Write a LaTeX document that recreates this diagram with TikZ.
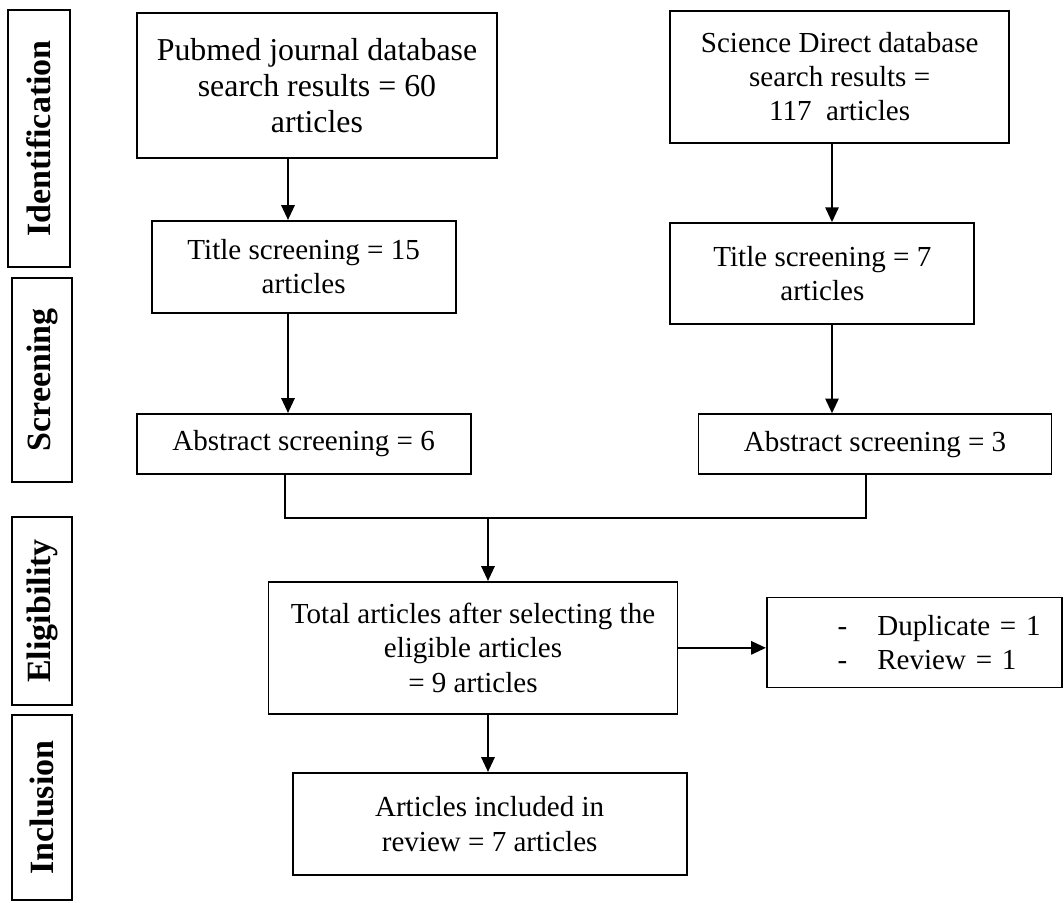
\documentclass[tikz,border=0pt]{standalone}
\usepackage{fontspec}
\setmainfont{Liberation Serif}
\usepackage{tikz}
\usetikzlibrary{positioning, arrows.meta}
\tikzstyle{stage} = [rectangle, rotate=90, draw=black, line width=0.8pt, inner sep=0pt, text centered, font=\fontsize{14.5}{17}\selectfont\bfseries]
\tikzstyle{process} = [rectangle, draw=black, line width=0.8pt, text centered, align=center, font=\fontsize{12.4}{14.6}\selectfont]
\tikzstyle{source} = [process, font=\fontsize{13.6}{15.3}\selectfont]
\tikzstyle{arrow} = [line width=0.7pt,->,>={Triangle[length=0.22cm,width=0.2cm]}]
\tikzstyle{link} = [line width=0.7pt]

\begin{document}
\begin{tikzpicture}[node distance=1.5cm]
        \useasboundingbox (-4.755,1.2825) rectangle (11.205,-12.2475);

        \node (pubmed) [source, minimum width=5.4cm, minimum height=2.175cm] {Pubmed journal database\\ search results = 60\\ articles};
        \node (titleL) [process, below of=pubmed, xshift=-0.2cm, yshift=-1.22cm, minimum width=4.56cm, minimum height=1.38cm] {Title screening = 15\\ articles};
        \node (absL) [process, below of=titleL, yshift=-1.155cm, minimum width=5.01cm, minimum height=0.9cm] {Abstract screening = 6};
        \node (sd) [process, right of=pubmed, xshift=6.34cm, yshift=0.13cm, minimum width=5.085cm, minimum height=1.98cm] {Science Direct database\\ search results =\\ 117\ \ articles};
        \node (titleR) [process, below of=sd, xshift=-0.26cm, yshift=-1.45cm, minimum width=4.56cm, minimum height=1.515cm] {Title screening = 7\\ articles};
        \node (absR) [process, below of=titleR, xshift=0.79cm, yshift=-1.06cm, minimum width=5.295cm, minimum height=0.9cm] {Abstract screening = 3};
        \node (total) [process, below of=absL, xshift=2.54cm, yshift=-1.56cm, minimum width=6.135cm, minimum height=1.98cm, font=\fontsize{12.4}{14.9}\selectfont] {Total articles after selecting the\\ eligible articles\\ = 9 articles};
        \node (excl) [process, right of=total, xshift=5.12cm, yshift=0.08cm, minimum width=4.425cm, minimum height=1.35cm, align=left, text width=4.2cm, inner xsep=0.1cm] {\hspace*{0.95cm}-\hspace{0.45cm}Duplicate = 1\\ \hspace*{0.95cm}-\hspace{0.45cm}Review = 1};
        \node (incl) [process, below of=total, xshift=0.25cm, yshift=-1.14cm, minimum width=5.91cm, minimum height=1.53cm, font=\fontsize{12.4}{14.9}\selectfont] {Articles included in\\ review = 7 articles};

        % stage labels on the left
        \node (identification) [stage, minimum width=3.855cm, minimum height=0.93cm] at (-4.17,-0.795) {Identification};
        \node (screening) [stage, minimum width=3.06cm, minimum height=0.9cm] at (-4.125,-4.4175) {Screening};
        \node (eligibility) [stage, minimum width=2.82cm, minimum height=0.9cm] at (-4.125,-7.8825) {Eligibility};
        \node (inclusion) [stage, minimum width=2.775cm, minimum height=0.9cm] at (-4.125,-10.83) {Inclusion};

        \coordinate (lcol) at (-0.435,0);
        \coordinate (rcol) at (7.725,0);
        \coordinate (jl) at (-0.48,-6.4875);
        \coordinate (jr) at (8.235,-6.4875);
        \coordinate (jm) at (2.565,-6.4875);

        \draw [arrow] (pubmed.south -| lcol) -- (titleL.north -| lcol);
        \draw [arrow] (titleL.south -| lcol) -- (absL.north -| lcol);
        \draw [arrow] (sd.south -| rcol) -- (titleR.north -| rcol);
        \draw [arrow] (titleR.south -| rcol) -- (absR.north -| rcol);
        \draw [link] (absL.south -| jl) -- (jl) -- (jr) -- (absR.south -| jr);
        \draw [arrow] (jm) -- (total.north -| jm);
        \draw [arrow] (total.east) -- (excl.west |- total.east);
        \draw [arrow] (total.south -| jm) -- (incl.north -| jm);
    \end{tikzpicture}
\end{document}
